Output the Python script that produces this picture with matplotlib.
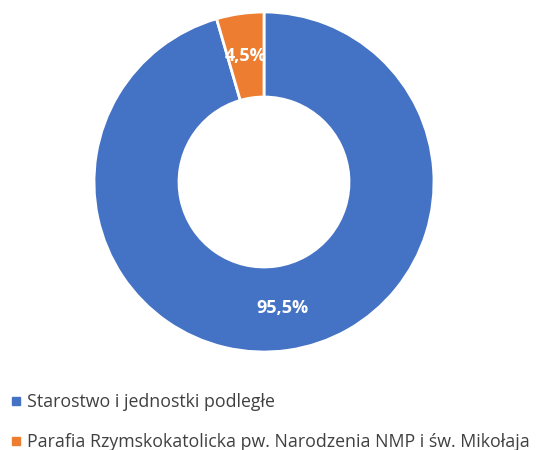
import matplotlib
import matplotlib.pyplot as plt
from matplotlib.lines import Line2D

matplotlib.use("Agg")

categories = ["Starostwo i jednostki podległe",
              "Parafia Rzymskokatolicka pw. Narodzenia NMP i św. Mikołaja"]
shares = [95.5, 4.5]
colors = ["#4472C4", "#ED7D31"]

plt.rcParams["font.family"] = ["Open Sans", "DejaVu Sans"]

fig = plt.figure(figsize=(5.36, 4.5), dpi=100)
ax = fig.add_axes([94 / 536, 98 / 450, 340 / 536, 340 / 450])

wedges, texts, autotexts = ax.pie(
    shares,
    colors=colors,
    startangle=90,
    counterclock=False,
    radius=1.0,
    wedgeprops=dict(width=0.5, edgecolor="white", linewidth=2),
    autopct=lambda p: f"{p:.1f}%".replace(".", ","),
    pctdistance=0.75,
    textprops=dict(color="white", fontsize=13, fontweight="bold"),
)
ax.set_xlim(-1, 1)
ax.set_ylim(-1, 1)

handles = [Line2D([], [], marker="s", linestyle="", color=c, markersize=6)
           for c in colors]
fig.legend(handles, categories, loc="upper left",
           bbox_to_anchor=(0.008, 1 - 386 / 450),
           frameon=False, fontsize=12.8, labelcolor="#404040",
           handlelength=0.5, handletextpad=0.35, labelspacing=1.25,
           borderaxespad=0)

fig.savefig("out.png", dpi=100)
